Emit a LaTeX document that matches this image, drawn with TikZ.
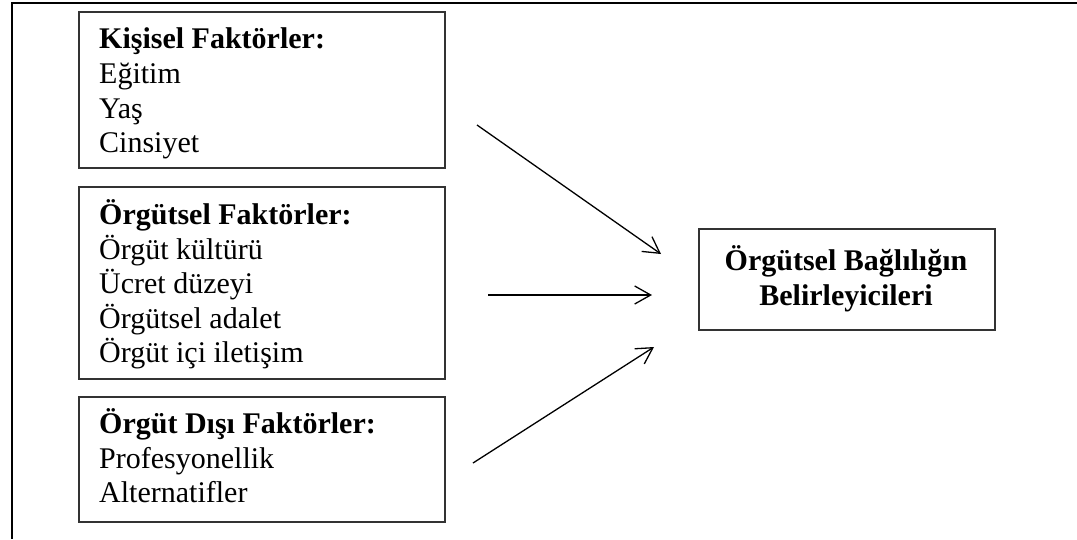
\documentclass[tikz,border=0pt]{standalone}
\usepackage{fontspec}
\setmainfont{Liberation Serif}
\usetikzlibrary{arrows.meta}
\begin{document}
\begin{tikzpicture}[x=1pt,y=-1pt,
  factorbox/.style={draw=black!80,line width=1.2pt,rectangle,inner sep=0pt},
  line/.style={anchor=base west,inner sep=0pt,font=\fontsize{30}{34.5}\selectfont},
  head/.style={line,font=\fontsize{30}{34.5}\selectfont\bfseries},
  ctr/.style={anchor=base,inner sep=0pt,font=\fontsize{30}{34.5}\selectfont\bfseries},
  link/.style={line width=1.3pt,-{Straight Barb[length=16pt,width=18pt,line width=1.3pt]}}]
\useasboundingbox (0,0) rectangle (1077,539);
% page frame: top and left rules
\coordinate (ftl) at (12,2.5);
\coordinate (ftr) at (1077,2.5);
\coordinate (fbl) at (12,539);
\draw[line width=2pt] (ftr) -- (ftl) -- (fbl);

% factor boxes
\node[factorbox,minimum width=366pt,minimum height=156pt] (kisisel) at (262,90) {};
\node[factorbox,minimum width=366pt,minimum height=192pt] (orgutsel) at (262,283) {};
\node[factorbox,minimum width=366pt,minimum height=125pt] (disi) at (262,459.5) {};
\node[factorbox,minimum width=296pt,minimum height=101pt] (sonuc) at (847,279.5) {};

% personal factors
\node[head] (k0) at (99,48) {Kişisel Faktörler:};
\node[line] (k1) at (99,83) {Eğitim};
\node[line] (k2) at (99,118) {Yaş};
\node[line] (k3) at (99,152) {Cinsiyet};

% organisational factors
\node[head] (o0) at (99,224) {Örgütsel Faktörler:};
\node[line] (o1) at (99,259) {Örgüt kültürü};
\node[line] (o2) at (99,293) {Ücret düzeyi};
\node[line] (o3) at (99,328) {Örgütsel adalet};
\node[line] (o4) at (99,362) {Örgüt içi iletişim};

% external factors
\node[head] (d0) at (99,433) {Örgüt Dışı Faktörler:};
\node[line] (d1) at (99,468) {Profesyonellik};
\node[line] (d2) at (99,502) {Alternatifler};

% outcome
\node[ctr] (s0) at (846,270) {Örgütsel Bağlılığın};
\node[ctr] (s1) at (846,305) {Belirleyicileri};

% arrows
\coordinate (a1s) at (477,125);
\coordinate (a1e) at (661,254);
\coordinate (a2s) at (488,295);
\coordinate (a2e) at (652,295);
\coordinate (a3s) at (473,463);
\coordinate (a3e) at (654,347);
\draw[link] (a1s) -- (a1e);
\draw[link] (a2s) -- (a2e);
\draw[link] (a3s) -- (a3e);
\end{tikzpicture}
\end{document}
